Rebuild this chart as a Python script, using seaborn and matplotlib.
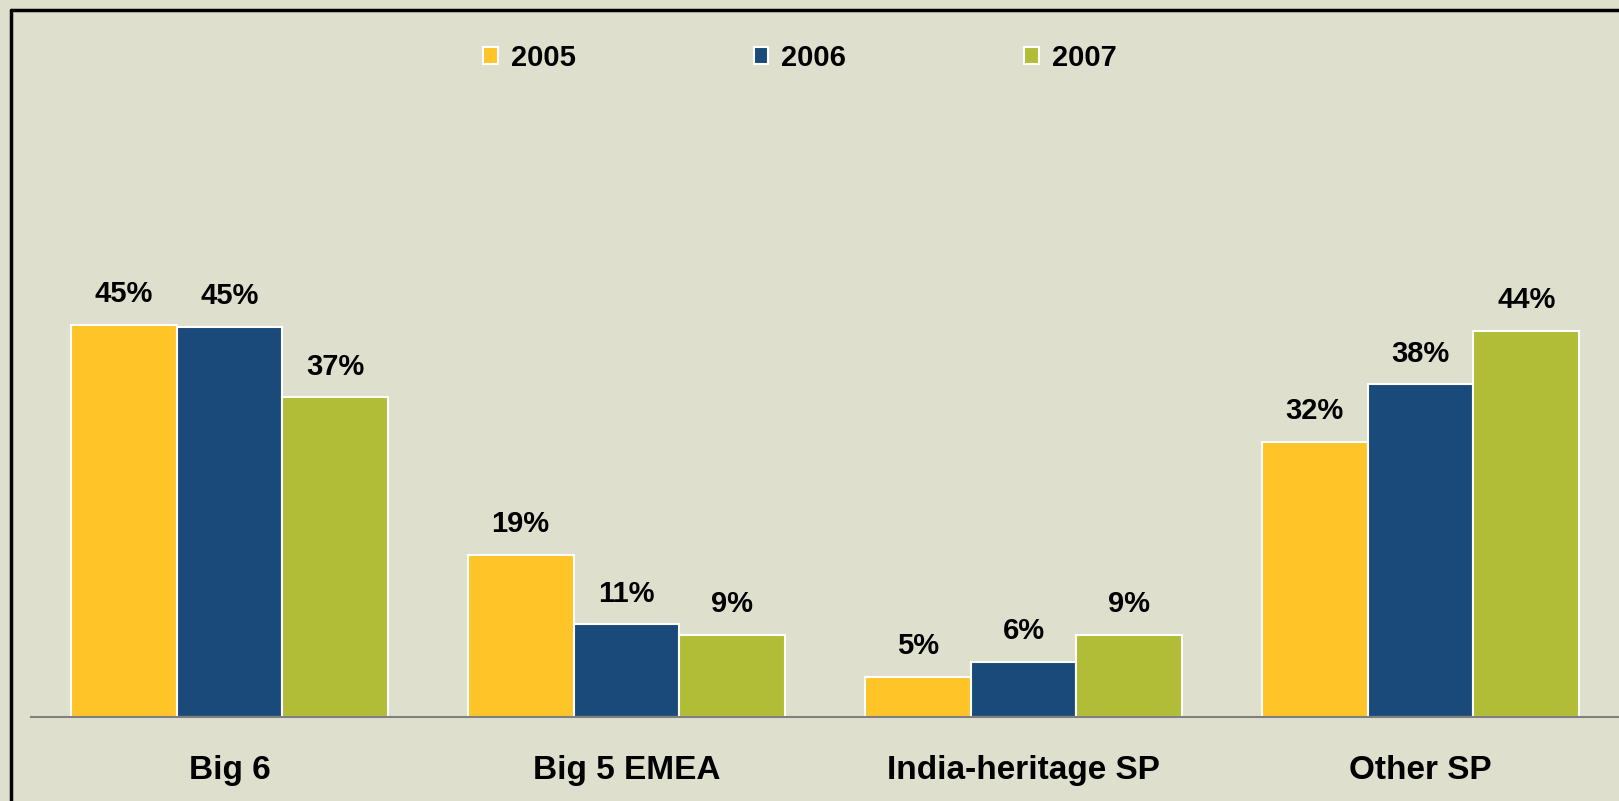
import pandas as pd
import seaborn as sns
import matplotlib.pyplot as plt
from matplotlib.lines import Line2D

categories = ["Big 6", "Big 5 EMEA", "India-heritage SP", "Other SP"]
years = ["2005", "2006", "2007"]
share_2005 = [45.0, 18.6, 4.6, 31.6]
share_2006 = [44.8, 10.6, 6.3, 38.2]
share_2007 = [36.7, 9.4, 9.4, 44.3]

colors = ["#FFC428", "#1A4A7A", "#B1BD36"]
bg = "#DFDFCD"


def make_df():
    rows = []
    for year, vals in zip(years, [share_2005, share_2006, share_2007]):
        for cat, v in zip(categories, vals):
            rows.append([cat, year, v])
    return pd.DataFrame(rows, columns=["segment", "year", "share"])


def plot(df):
    sns.set_theme(style="white")
    plt.rcParams["font.family"] = ["Liberation Sans", "DejaVu Sans"]
    plt.rcParams["font.weight"] = "bold"
    plt.rcParams["text.color"] = "black"
    plt.rcParams["xtick.color"] = "black"

    fig = plt.figure(figsize=(16.19, 8.01), dpi=100, facecolor=bg)
    ax = fig.add_axes([31 / 1619, 0.1054, 1 - 31 / 1619, 0.6517])
    ax.set_facecolor(bg)

    sns.barplot(data=df, x="segment", y="share", hue="year", order=categories,
                hue_order=years, palette=colors, saturation=1, edgecolor="white",
                linewidth=1.5, width=0.8, ax=ax)

    for cont in ax.containers:
        ax.bar_label(cont, fmt="%.0f%%", padding=12, fontsize=21, fontweight="bold",
                     color="black")

    ax.set_xlim(-0.5, 3.5)
    ax.set_ylim(0, 60)
    ax.set_xlabel("")
    ax.set_ylabel("")
    ax.set_yticks([])
    ax.tick_params(axis="x", length=0, pad=28, labelsize=24, labelcolor="black")
    for lab in ax.get_xticklabels():
        lab.set_fontweight("bold")
    for side in ["top", "left", "right"]:
        ax.spines[side].set_visible(False)
    ax.spines["bottom"].set_color("#808080")
    ax.spines["bottom"].set_linewidth(1.5)

    handles, labels = ax.get_legend_handles_labels()
    ax.get_legend().remove()
    leg = fig.legend(handles, labels, loc="center", bbox_to_anchor=(0.494, 0.928), ncol=3,
                     frameon=False, prop={"size": 21, "weight": "bold"},
                     handlelength=0.5, handleheight=0.5, handletextpad=0.45,
                     columnspacing=6.1)
    for t in leg.get_texts():
        t.set_color("black")

    # black frame on top and left edges
    fig.add_artist(Line2D([11 / 1619, 11 / 1619], [0, 1 - 10 / 801], color="black", lw=2.5))
    fig.add_artist(Line2D([11 / 1619, 1], [1 - 10 / 801, 1 - 10 / 801], color="black", lw=2.5))

    fig.savefig("out.png", dpi=100, facecolor=bg)


def main():
    df = make_df()
    plot(df)


if __name__ == "__main__":
    main()
